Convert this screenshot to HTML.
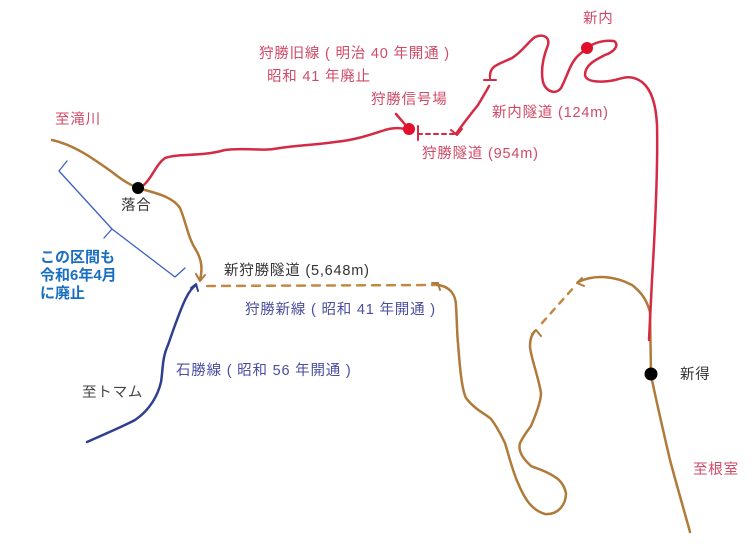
<!DOCTYPE html>
<html><head><meta charset="utf-8"><style>
html,body{margin:0;padding:0;background:#fff;width:756px;height:552px;overflow:hidden}
svg{display:block}
text{font-family:"Liberation Sans","Noto Sans CJK JP",sans-serif;font-size:14.5px;letter-spacing:0.8px}
</style></head><body>
<svg width="756" height="552" viewBox="0 0 756 552">
<g fill="none" stroke-linecap="round" stroke-linejoin="round">
<path d="M52,140 C75,145 95,160 112,172 C122,180 130,185 138,188 C155,193 172,196 180,208 C186,222 188,238 196,250 C203,262 202,272 200,280" stroke="#b07a3a" stroke-width="2.5"/>
<path d="M196,274 L200,281 L205,275" stroke="#b07a3a" stroke-width="2"/>
<path d="M207,286 L435,285" stroke="#c08a45" stroke-width="2.5" stroke-dasharray="8,7"/>
<path d="M437,285 C450,286 456,295 456,306 C457,320 457,335 458,343 C460,370 462,390 466,398 C475,410 486,414 491,419 C498,428 502,437 505,443 C510,460 514,475 518,483 C525,500 532,510 545,514 C558,515 566,505 566,493 C564,485 560,480 555,477 C545,470 535,468 531,466 C522,458 518,450 520,443 C524,435 528,430 531,426 C537,412 541,400 541,393 C538,375 530,355 530,346 C530,340 531,335 535,331" stroke="#b07a3a" stroke-width="2.5"/>
<path d="M432,283 L438,283 L440,290" stroke="#b07a3a" stroke-width="2"/>
<path d="M532,334 L536,330 L541,336" stroke="#b07a3a" stroke-width="2"/>
<path d="M542,323 L575,286" stroke="#c08a45" stroke-width="2.5" stroke-dasharray="6,7"/>
<path d="M578,282 C595,274 615,276 632,285 C645,295 648,305 650,312" stroke="#b07a3a" stroke-width="2.5"/>
<path d="M582,278 L577,283 L584,286" stroke="#b07a3a" stroke-width="2"/>
<path d="M650,310 L651,375 C656,400 663,430 670,460 C678,490 684,510 690,532" stroke="#b07a3a" stroke-width="2.5"/>
<path d="M140,188 C152,180 155,165 165,158 C180,153 200,157 225,150 C245,147 260,152 280,148 C300,145 315,145 335,142 C355,140 370,135 385,130 C395,127 402,128 409,130" stroke="#d42a44" stroke-width="2.5"/>
<path d="M396,114 L409,129" stroke="#d42a44" stroke-width="2.5"/>
<path d="M418,134 L456,134" stroke="#d42a44" stroke-width="2" stroke-dasharray="4,4"/>
<path d="M456,134 C462,125 470,115 478,105 C482,98 486,92 489,86" stroke="#d42a44" stroke-width="2.5"/>
<path d="M451,130 L457,135 L462,129" stroke="#d42a44" stroke-width="2"/>
<path d="M484,80 L496,80 M490,80 L490,76" stroke="#d42a44" stroke-width="2"/>
<path d="M490,76 C490,65 500,64 512,58 C522,52 528,42 535,37 C542,34 550,36 548,45 C544,55 540,68 543,82 C546,92 556,95 561,88 C568,75 570,62 580,54 C585,50 586,49 587,48 C595,42 605,40 614,41 C620,45 614,52 605,55 C595,60 585,65 585,75 C586,82 600,83 615,80 C625,77 632,75 642,82 C652,90 656,105 657,125 C658,170 655,230 652,280 L649,340" stroke="#d42a44" stroke-width="2.5"/>
<path d="M418,126 L418,140" stroke="#d42a44" stroke-width="2"/>
<path d="M87,442 C100,436 120,428 135,420 C150,410 158,395 161,382 C163,370 162,358 168,345 C175,325 180,310 186,298 C190,290 193,287 196,285" stroke="#2f3f8c" stroke-width="2.5"/>
<path d="M191,288 L196,284 L198,291" stroke="#2f3f8c" stroke-width="2"/>
<path d="M67,161 L59,171 L112,229 L104,238 M112,229 L175,277 L185,268" stroke="#3a62c0" stroke-width="1.3"/>
</g>
<circle cx="138" cy="188" r="6" fill="#000"/>
<circle cx="409" cy="129" r="6" fill="#e0102a"/>
<circle cx="587" cy="48" r="6" fill="#e0102a"/>
<circle cx="651" cy="374" r="6.5" fill="#000"/>
<g fill="#d04a66">
<text x="259" y="58">狩勝旧線 ( 明治 40 年開通 )</text>
<text x="267" y="81">昭和 41 年廃止</text>
<text x="371" y="104">狩勝信号場</text>
<text x="55" y="124">至滝川</text>
<text x="583" y="23">新内</text>
<text x="492" y="117">新内隧道 (124m)</text>
<text x="422" y="158">狩勝隧道 (954m)</text>
<text x="693" y="474">至根室</text>
</g>
<g fill="#333">
<text x="121" y="210">落合</text>
<text x="224" y="275">新狩勝隧道 (5,648m)</text>
<text x="680" y="379">新得</text>
</g>
<g fill="#4a4ea0">
<text x="245" y="314">狩勝新線 ( 昭和 41 年開通 )</text>
<text x="176" y="375">石勝線 ( 昭和 56 年開通 )</text>
<text x="82" y="397" fill="#444">至トマム</text>
</g>
<g fill="#1a6fc0">
<text x="40" y="262" style="font-weight:bold;font-size:15px;letter-spacing:0">この区間も</text>
<text x="40" y="280" style="font-weight:bold;font-size:15px;letter-spacing:0">令和6年4月</text>
<text x="40" y="298" style="font-weight:bold;font-size:15px;letter-spacing:0">に廃止</text>
</g>
</svg>
</body></html>
